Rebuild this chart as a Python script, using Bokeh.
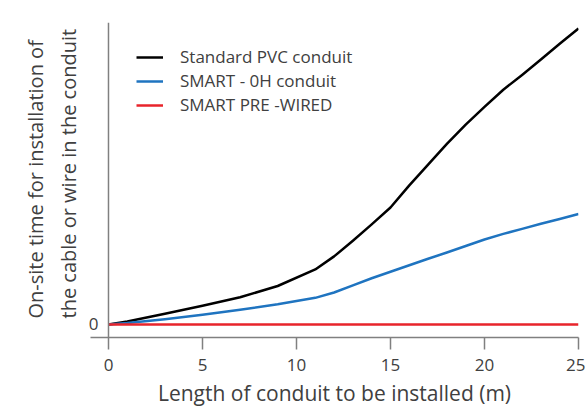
from bokeh.plotting import figure
from bokeh.models import FixedTicker, Span, Legend, LegendItem, Title, Range1d
from bokeh.embed import file_html
from bokeh.resources import INLINE

# Length of conduit (m)
length = [0, 1, 3, 5, 7, 9, 11, 12, 13, 14, 15, 16, 17, 18, 19, 20, 21, 22, 23, 24, 25]
# Relative on-site time (arbitrary units)
standard_pvc = [0, 1.0, 3.6, 6.3, 9.2, 13.0, 18.6, 23.0, 28.3, 33.8, 39.5, 47.0, 54.0, 61.0, 67.5, 73.5, 79.3, 84.3, 89.5, 94.8, 100.0]
smart_0h = [0, 0.5, 1.8, 3.3, 5.0, 6.8, 9.0, 10.8, 13.2, 15.6, 17.8, 20.0, 22.2, 24.3, 26.5, 28.7, 30.6, 32.3, 34.0, 35.6, 37.3]
smart_prewired = [0] * len(length)

series_names = ["Standard PVC conduit", "SMART - 0H conduit", "SMART PRE -WIRED"]
x_ticks = [0, 5, 10, 15, 20, 25]
y_ticks = [0]
y_title_lines = ["On-site time for installation of", "the cable or wire in the conduit"]
x_title = "Length of conduit to be installed (m)"

FONT = "Open Sans"
TXT = "#404040"
AX = "#808080"

p = figure(width=585, height=409, output_backend="svg", toolbar_location=None,
           x_range=Range1d(-0.957, 25), y_range=Range1d(-4.4, 102),
           min_border_left=90, min_border_right=7, min_border_top=22, min_border_bottom=72)
p.outline_line_color = None
p.xgrid.visible = False
p.ygrid.visible = False

# y-axis line at x = 0
p.add_layout(Span(location=0, dimension="height", line_color=AX, line_width=1.5))

r1 = p.line(length, standard_pvc, line_color="#000000", line_width=2.5, line_join="round")
r2 = p.line(length, smart_0h, line_color="#1f74c0", line_width=2.5, line_join="round")
r3 = p.line(length, smart_prewired, line_color="#e8242b", line_width=2.5)

xa = p.xaxis[0]
xa.ticker = FixedTicker(ticks=x_ticks)
xa.minor_tick_line_color = None
xa.major_tick_in = 0
xa.major_tick_out = 12
xa.major_tick_line_color = AX
xa.major_tick_line_width = 1.5
xa.axis_line_color = AX
xa.axis_line_width = 1.5
xa.major_label_text_font = FONT
xa.major_label_text_font_size = "17px"
xa.major_label_text_color = TXT
xa.major_label_standoff = 9
xa.axis_label = x_title
xa.axis_label_text_font = FONT
xa.axis_label_text_font_size = "21px"
xa.axis_label_text_font_style = "normal"
xa.axis_label_text_color = TXT
xa.axis_label_standoff = 5

ya = p.yaxis[0]
ya.ticker = FixedTicker(ticks=y_ticks)
ya.minor_tick_line_color = None
ya.major_tick_line_color = None
ya.major_tick_in = 0
ya.major_tick_out = 0
ya.axis_line_color = None
ya.major_label_text_font = FONT
ya.major_label_text_font_size = "17px"
ya.major_label_text_color = TXT
ya.major_label_standoff = -8

for i, line in enumerate(reversed(y_title_lines)):
    t = Title(text=line, align="left", offset=19, text_font=FONT, text_font_size="20px",
              text_font_style="normal", text_color=TXT, standoff=7 if i == 0 else 1)
    p.add_layout(t, "left")

legend = Legend(items=[LegendItem(label=series_names[0], renderers=[r1]),
                       LegendItem(label=series_names[1], renderers=[r2]),
                       LegendItem(label=series_names[2], renderers=[r3])],
                location=(46, 221), padding=0, margin=0, border_line_color=None,
                background_fill_alpha=0, glyph_width=27, glyph_height=20, label_height=20,
                label_standoff=17, spacing=1, label_text_font=FONT, label_text_font_size="17px",
                label_text_color=TXT)
p.add_layout(legend)

open("out.html", "w").write(file_html(p, INLINE))
